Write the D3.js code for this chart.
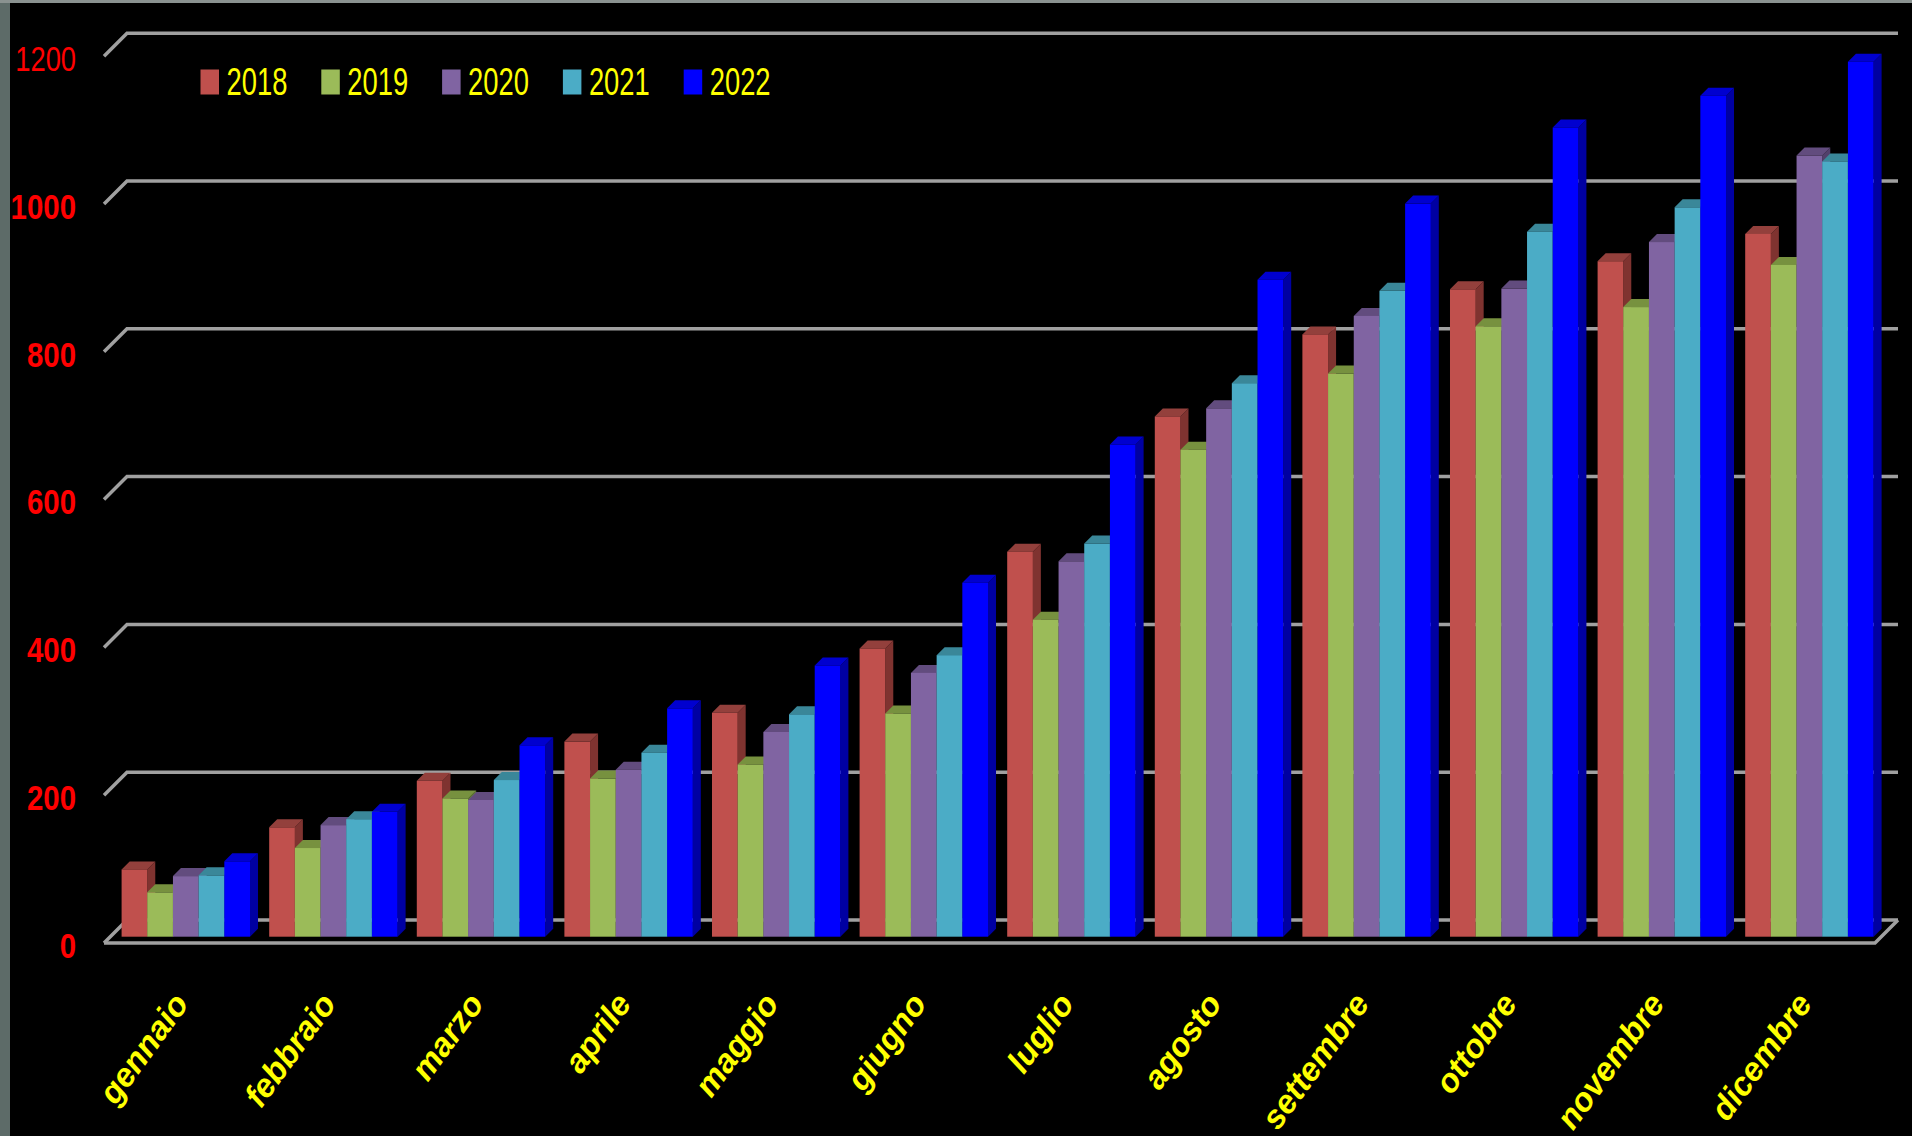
<!DOCTYPE html>
<html>
<head>
<meta charset="utf-8">
<script src="https://cdn.jsdelivr.net/npm/d3@7"></script>
<style>
  html, body { margin: 0; padding: 0; background: #000; overflow: hidden; }
  svg { display: block; }
</style>
</head>
<body>
<svg id="chart" width="1912" height="1136"></svg>
<script>
// ---- DATA ----
const months = ["gennaio","febbraio","marzo","aprile","maggio","giugno","luglio","agosto","settembre","ottobre","novembre","dicembre"];
const years = ["2018","2019","2020","2021","2022"];
const v2018 = [91, 148, 211, 264, 303, 390, 521, 704, 815, 876, 914, 951];
const v2019 = [60, 120, 187, 214, 233, 302, 429, 659, 762, 826, 852, 909];
const v2020 = [82, 151, 185, 226, 277, 357, 508, 715, 840, 877, 940, 1057];
const v2021 = [83, 159, 212, 249, 301, 381, 532, 749, 874, 954, 987, 1049];
const v2022 = [102, 169, 259, 309, 367, 479, 666, 889, 992, 1095, 1138, 1184];
const yTicks = [0, 200, 400, 600, 800, 1000, 1200];

const seriesValues = [v2018, v2019, v2020, v2021, v2022];
const frontColors = ["#C0504D", "#9BBB59", "#8064A2", "#4BACC6", "#0000FF"];
const capColors   = ["#93403C", "#77913F", "#624C7E", "#3A8799", "#0000CF"];
const sideColors  = ["#7F3330", "#66803A", "#52406B", "#2F6E7E", "#0000A2"];

// ---- LAYOUT ----
const svg = d3.select("#chart");
svg.append("rect").attr("width", 1912).attr("height", 1136).attr("fill", "#000");
// thin photo-like edges of the original slide
svg.append("rect").attr("x", 0).attr("y", 0).attr("width", 10).attr("height", 1136).attr("fill", "#5d6b68");
svg.append("rect").attr("x", 0).attr("y", 0).attr("width", 1912).attr("height", 3).attr("fill", "#8a9290");

const baseFront = 936.7;
const y = d3.scaleLinear().domain([0, 1200]).range([baseFront, baseFront - 1200 * 0.739]);
const wallShiftY = -16.7;      // back wall relative to bar front
const x0 = d3.scaleBand().domain(months).range([112, 1883.2]).paddingInner(0.13).paddingOuter(0.065);
const x1 = d3.scaleBand().domain(years).range([0, x0.bandwidth()]);
const depth = 8;               // bar depth (oblique)

const backLeft = 127, backRight = 1898, frontLeft = 104, frontRight = 1875, diag = 23;

// ---- GRIDLINES (back wall + left stub) ----
const grid = svg.append("g").attr("stroke", "#a0a0a0").attr("stroke-width", 3.5).attr("fill", "none");
yTicks.forEach(t => {
  const yb = y(t) + wallShiftY;
  grid.append("path").attr("d", `M${frontLeft},${yb + diag}L${backLeft},${yb}L${backRight},${yb}`);
});
// floor front edge
const yb0 = y(0) + wallShiftY;
grid.append("path").attr("d", `M${frontLeft},${yb0 + diag}L${frontRight},${yb0 + diag}L${backRight},${yb0}`);

// ---- BARS ----
const bars = svg.append("g");
months.forEach((m, mi) => {
  years.forEach((yr, si) => {
    const v = seriesValues[si][mi];
    const xl = x0(m) + x1(yr);
    const w = x1.bandwidth();
    const yt = y(v), yb = y(0);
    const g = bars.append("g");
    // side
    g.append("path")
      .attr("d", `M${xl + w},${yt}L${xl + w + depth},${yt - depth}L${xl + w + depth},${yb - depth}L${xl + w},${yb}Z`)
      .attr("fill", sideColors[si]);
    // top cap
    g.append("path")
      .attr("d", `M${xl},${yt}L${xl + depth},${yt - depth}L${xl + w + depth},${yt - depth}L${xl + w},${yt}Z`)
      .attr("fill", capColors[si]);
    // front
    g.append("rect").attr("x", xl).attr("y", yt).attr("width", w).attr("height", yb - yt)
      .attr("fill", frontColors[si]);
  });
});

// ---- Y AXIS LABELS ----
const yl = svg.append("g");
yTicks.forEach(t => {
  yl.append("text")
    .attr("transform", `translate(76,${y(t) + 21}) scale(${t === 1200 ? 0.78 : 0.84},1)`)
    .attr("text-anchor", "end")
    .attr("font-family", "'Liberation Sans', Arial, sans-serif")
    .attr("font-weight", t === 1200 ? "normal" : "bold")
    .attr("font-size", 35)
    .attr("fill", "#FF0000")
    .text(d3.format("d")(t));
});

// ---- X AXIS LABELS ----
const xl = svg.append("g");
months.forEach(m => {
  const cx = x0(m) + x0.bandwidth() / 2;
  xl.append("text")
    .attr("transform", `translate(${cx + 4},${1004}) rotate(-54)`)
    .attr("text-anchor", "end")
    .attr("font-family", "'Liberation Sans', Arial, sans-serif")
    .attr("font-weight", "bold")
    .attr("font-style", "italic")
    .attr("font-size", 33)
    .attr("fill", "#FFFF00")
    .text(m);
});

// ---- LEGEND ----
const legend = svg.append("g");
years.forEach((yr, i) => {
  const lx = 200.5 + i * 120.8;
  legend.append("rect").attr("x", lx).attr("y", 69.5).attr("width", 18.5).attr("height", 25)
    .attr("fill", frontColors[i]);
  legend.append("text")
    .attr("transform", `translate(${lx + 26},95) scale(0.72,1)`)
    .attr("font-family", "'Liberation Sans', Arial, sans-serif")
    .attr("font-size", 38)
    .attr("fill", "#FFFF00")
    .text(yr);
});
</script>
</body>
</html>
